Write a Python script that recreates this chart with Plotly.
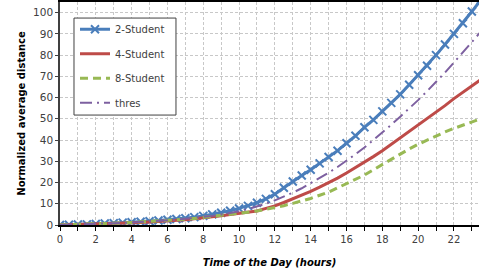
import plotly.graph_objects as go

hours = [i * 0.5 for i in range(48)]

student2 = [0, 0.1, 0.2, 0.3, 0.5, 0.7, 0.9, 1.1, 1.3, 1.5, 1.8, 2.1, 2.5, 2.8, 3.2, 3.7,
            4.3, 5.0, 5.8, 6.7, 7.8, 9.0, 10.5, 12.3, 14.5, 17.5, 20.5, 23.3, 26, 29, 32, 35,
            38.5, 42, 46, 49.5, 53.5, 57.5, 61.5, 66, 70.5, 75, 80, 85, 90, 95, 100.5, 106]
student4 = [0, 0.1, 0.2, 0.3, 0.4, 0.5, 0.7, 0.8, 1.0, 1.2, 1.4, 1.6, 1.9, 2.2, 2.5, 2.9,
            3.3, 3.8, 4.3, 4.9, 5.5, 6.0, 6.6, 7.8, 9.0, 10.6, 12.3, 14.0, 15.8, 17.8, 19.8, 22.1,
            24.5, 27.0, 29.5, 32.2, 35.0, 38.0, 41.0, 44.0, 47.0, 50.0, 53.0, 56.2, 59.5, 62.5, 65.5, 68.5]
student8 = [0, 0.1, 0.2, 0.3, 0.5, 0.6, 0.8, 1.0, 1.2, 1.4, 1.6, 1.8, 2.1, 2.4, 2.7, 3.1,
            3.5, 4.0, 4.5, 5.0, 5.5, 6.0, 6.6, 7.4, 8.2, 9.1, 10.2, 11.3, 12.5, 14.0, 15.5, 17.5,
            19.5, 21.5, 23.5, 26.0, 28.5, 31.0, 33.5, 35.8, 38.0, 40.0, 42.0, 43.8, 45.5, 47.0, 48.5, 50.0]
thres = [0, 0.1, 0.2, 0.3, 0.5, 0.6, 0.8, 1.0, 1.2, 1.4, 1.7, 1.9, 2.2, 2.5, 2.9, 3.3,
         3.8, 4.3, 4.9, 5.6, 6.5, 7.5, 8.6, 10.0, 11.6, 13.3, 15.2, 17.3, 19.6, 22.0, 24.6, 27.3,
         30.2, 33.3, 36.5, 40.0, 43.5, 47.2, 51.0, 54.8, 58.8, 63.0, 67.3, 71.8, 76.5, 81.3, 86.2, 91.0]

series_names = ["2-Student", "4-Student", "8-Student", "thres"]

xtick_vals = list(range(0, 24))
xtick_text = [str(v) if v % 2 == 0 else "" for v in xtick_vals]
ytick_vals = list(range(0, 101, 10))

fig = go.Figure()
fig.add_trace(go.Scatter(x=hours, y=student2, name=series_names[0], mode="lines+markers",
                         line=dict(color="#4a7ebb", width=3),
                         marker=dict(symbol="x-thin", size=8, line=dict(color="#4a7ebb", width=2)),
                         legendgroup="a"))
fig.add_trace(go.Scatter(x=hours, y=student4, name=series_names[1], mode="lines",
                         line=dict(color="#be4b48", width=3), legendgroup="b"))
fig.add_trace(go.Scatter(x=hours, y=student8, name=series_names[2], mode="lines",
                         line=dict(color="#98b954", width=3, dash="8px,5px"), legendgroup="c"))
fig.add_trace(go.Scatter(x=hours, y=thres, name=series_names[3], mode="lines",
                         line=dict(color="#7d60a0", width=2, dash="12px,5px,2px,5px"), legendgroup="d"))

# legend frame
fig.add_shape(type="rect", xref="paper", yref="paper", x0=0.0334, x1=0.2768, y0=0.493, y1=0.928,
              line=dict(color="#404040", width=1), fillcolor="white", layer="above")

fig.update_layout(
    width=479, height=275,
    margin=dict(l=60, r=0, t=2, b=50, autoexpand=False),
    paper_bgcolor="white", plot_bgcolor="white",
    font=dict(family="DejaVu Sans", size=10, color="#404040"),
    showlegend=True,
    legend=dict(x=0.0358, y=0.943, xanchor="left", yanchor="top",
                bgcolor="rgba(0,0,0,0)", borderwidth=0,
                font=dict(size=10, color="#404040"), tracegroupgap=5.5,
                itemwidth=30),
    xaxis=dict(range=[0, 23.4], tickvals=xtick_vals, ticktext=xtick_text, automargin=False,
               showgrid=True, gridcolor="#c8c8c8", griddash="3px,2px", gridwidth=1,
               showline=True, linecolor="black", linewidth=1.5, mirror=True,
               ticks="outside", ticklen=4, tickcolor="black",
               tickfont=dict(size=10, color="#404040"), zeroline=False,
               title=dict(text="<b><i>Time of the Day (hours)</i></b>", font=dict(size=10, color="black"),
                          standoff=15)),
    yaxis=dict(range=[0, 105], tickvals=ytick_vals, automargin=False,
               showgrid=True, gridcolor="#c8c8c8", griddash="3px,2px", gridwidth=1,
               showline=True, linecolor="#404040", linewidth=1.5,
               ticks="outside", ticklen=3, tickcolor="#404040",
               tickfont=dict(size=10.5, color="#404040"), zeroline=False,
               title=dict(text="<b>Normalized average distance</b>", font=dict(size=10, color="black"),
                          standoff=6)),
)

fig.write_html("out.html", config={"displayModeBar": False},
               post_script="document.body.style.margin='0px';document.body.style.overflow='hidden';")
